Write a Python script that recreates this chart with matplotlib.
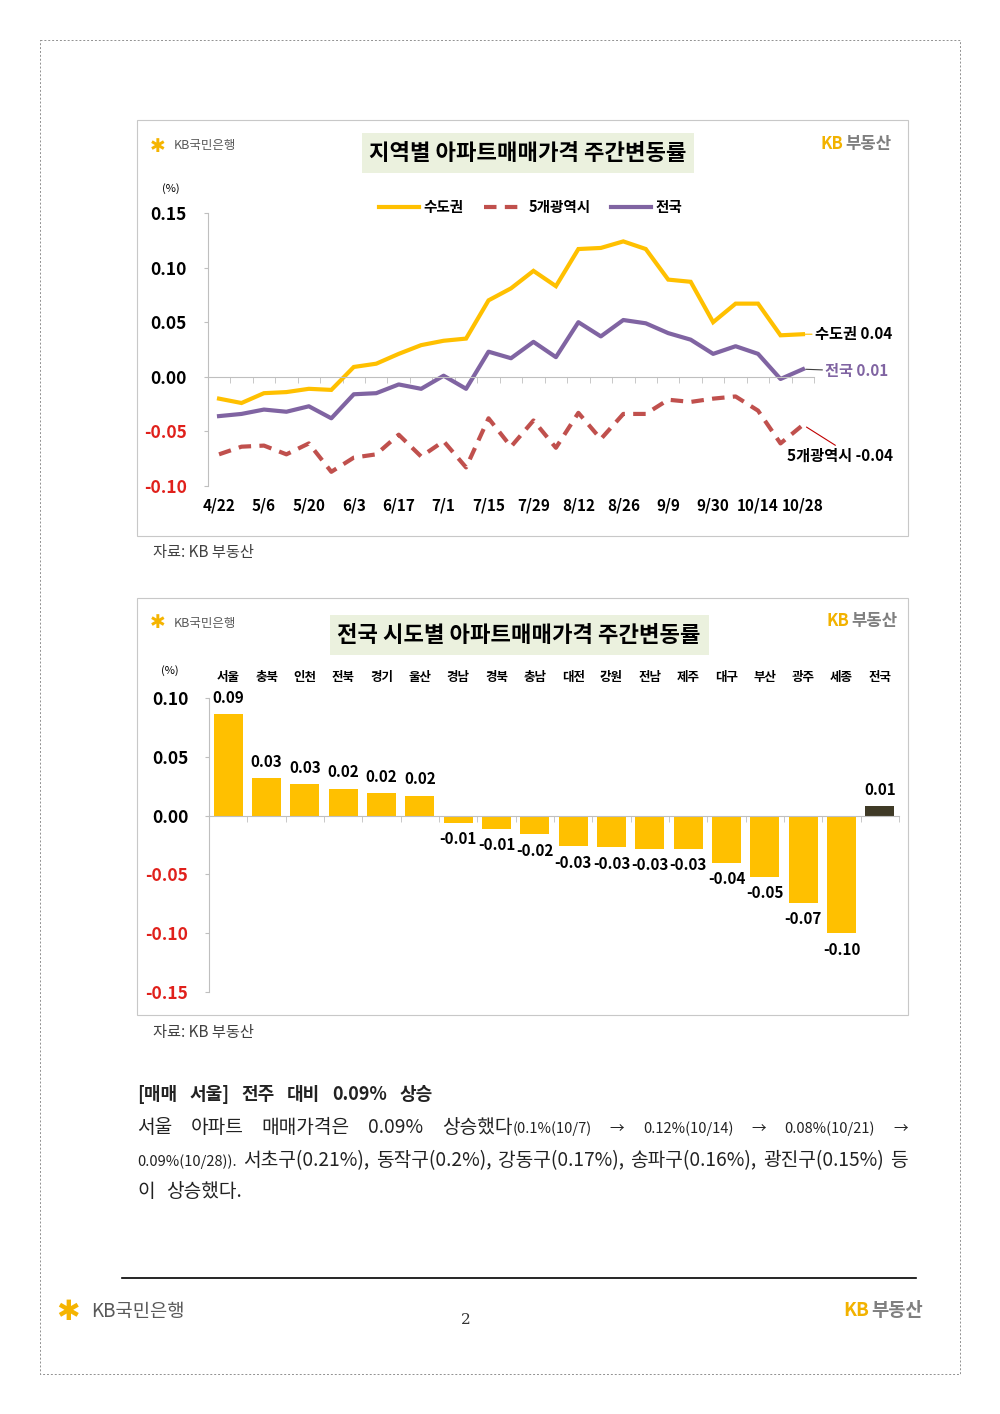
import numpy as np
import matplotlib
matplotlib.use('Agg')
import matplotlib.pyplot as plt
from matplotlib.patches import Rectangle

plt.rcParams['font.family'] = ['Noto Sans CJK KR', 'DejaVu Sans']

# weekly change (%) - top chart
dates = ['4/22', '4/29', '5/6', '5/13', '5/20', '5/27', '6/3', '6/10', '6/17', '6/24',
         '7/1', '7/8', '7/15', '7/22', '7/29', '8/5', '8/12', '8/19', '8/26', '9/2',
         '9/9', '9/23', '9/30', '10/7', '10/14', '10/21', '10/28']
capital = [-0.020, -0.024, -0.015, -0.014, -0.011, -0.012, 0.009, 0.012, 0.021, 0.029,
           0.033, 0.035, 0.070, 0.081, 0.097, 0.083, 0.117, 0.118, 0.124, 0.117,
           0.089, 0.087, 0.050, 0.067, 0.067, 0.038, 0.039]
metro = [-0.071, -0.064, -0.063, -0.071, -0.061, -0.087, -0.074, -0.071, -0.053, -0.073,
         -0.059, -0.083, -0.038, -0.064, -0.040, -0.065, -0.033, -0.057, -0.034, -0.034,
         -0.021, -0.023, -0.020, -0.018, -0.031, -0.061, -0.044]
national = [-0.036, -0.034, -0.030, -0.032, -0.027, -0.038, -0.016, -0.015, -0.007, -0.011,
            0.001, -0.011, 0.023, 0.017, 0.032, 0.018, 0.050, 0.037, 0.052, 0.049,
            0.040, 0.034, 0.021, 0.028, 0.021, -0.002, 0.007]
series_names = ['수도권', '5개광역시', '전국']

# latest week by region - bottom chart
regions = ['서울', '충북', '인천', '전북', '경기', '울산', '경남', '경북', '충남', '대전',
           '강원', '전남', '제주', '대구', '부산', '광주', '세종', '전국']
region_vals = [0.086, 0.032, 0.027, 0.023, 0.019, 0.017, -0.006, -0.011, -0.016, -0.026,
               -0.027, -0.028, -0.028, -0.040, -0.052, -0.074, -0.100, 0.008]

YEL = '#FFC000'
RED = '#C0504D'
PUR = '#8064A2'
NEG = '#E0201B'
GRID = '#BFBFBF'

fig = plt.figure(figsize=(10, 14.14), dpi=100)
fig.patch.set_facecolor('white')

# overlay in pixel coords
ov = fig.add_axes([0, 0, 1, 1])
ov.set_xlim(0, 1000)
ov.set_ylim(1414, 0)
ov.axis('off')

ov.add_patch(Rectangle((40, 40), 920, 1334, fill=False, ec='#909090', lw=0.7, ls=(0, (2, 2))))
for top, bot in [(120, 536), (598, 1015)]:
    ov.add_patch(Rectangle((137, top), 771, bot - top, fill=False, ec='#C8C8C8', lw=0.8))
ov.add_patch(Rectangle((362, 133), 332, 40, fc='#EBF1DE', ec='none'))
ov.add_patch(Rectangle((330, 615), 379, 40, fc='#EBF1DE', ec='none'))
ov.text(528, 154, '지역별 아파트매매가격 주간변동률', fontsize=16, weight='bold', ha='center', va='center')
ov.text(519, 636, '전국 시도별 아파트매매가격 주간변동률', fontsize=16, weight='bold', ha='center', va='center')


def kb_bank(x, y, fs):
    ov.text(x, y, '✱', fontsize=fs * 1.5, color='#F5B400', family='DejaVu Sans', ha='left', va='center')
    ov.text(x + fs * 2.6, y, 'KB국민은행', fontsize=fs, color='#595959', ha='left', va='center')


def kb_estate(x, y, fs):
    ov.text(x, y, 'KB', fontsize=fs, color='#F2B200', weight='bold', ha='left', va='center')
    ov.text(x + fs * 2.1, y, '부동산', fontsize=fs, color='#7F7F7F', weight='bold', ha='left', va='center')


kb_bank(150, 146, 9)
kb_bank(150, 623, 9)
kb_estate(820, 144, 12)
kb_estate(826, 621, 12)
kb_bank(56, 1312, 13.5)
kb_estate(843, 1310, 13.5)

ov.text(153, 553, '자료: KB 부동산', fontsize=11, color='#404040', va='center')
ov.text(153, 1032, '자료: KB 부동산', fontsize=11, color='#404040', va='center')
ov.text(171, 189, '(%)', fontsize=8, ha='center', va='center')
ov.text(170, 671, '(%)', fontsize=8, ha='center', va='center')

ov.plot([122, 916], [1278, 1278], color='black', lw=1.2)
ov.text(466, 1320, '2', fontsize=11, family='DejaVu Serif', ha='center', va='center', color='#333333')

# ---------------- top line chart ----------------
ax = fig.add_axes([0.2078, 1 - 486 / 1414, 0.6064, 273 / 1414])
ax.set_facecolor('none')
x = np.arange(len(dates))
l1, = ax.plot(x, capital, color=YEL, lw=3, solid_joinstyle='miter')
l2, = ax.plot(x, metro, color=RED, lw=3, ls=(0, (3, 2)))
l3, = ax.plot(x, national, color=PUR, lw=3)
ax.set_xlim(-0.5, len(dates) - 0.5)
ax.set_ylim(-0.10, 0.15)
ax.set_yticks(np.arange(-0.10, 0.151, 0.05))
ax.yaxis.set_major_formatter(matplotlib.ticker.FormatStrFormatter('%.2f'))
for s in ['top', 'right']:
    ax.spines[s].set_visible(False)
ax.spines['left'].set_color(GRID)
ax.spines['bottom'].set_color(GRID)
ax.spines['bottom'].set_position(('data', 0))
ax.set_xticks([])
ax.set_xticks(np.arange(-0.5, len(dates), 1), minor=True)
ax.tick_params(axis='x', which='minor', length=4, color=GRID, labelbottom=False)
ax.tick_params(axis='y', length=3, color=GRID, pad=12, labelsize=12.5)
for lab in ax.get_yticklabels():
    lab.set_fontweight('bold')
    if lab.get_position()[1] < -1e-9:
        lab.set_color(NEG)
sec = ax.secondary_xaxis('bottom')
sec.set_xticks(x[::2], [dates[i] for i in range(0, len(dates), 2)])
sec.spines['bottom'].set_visible(False)
sec.tick_params(length=0, pad=8, labelsize=11)
for lab in sec.get_xticklabels():
    lab.set_fontweight('bold')

ax.legend([l1, l2, l3], series_names, ncol=3, loc='center', frameon=False,
          bbox_to_anchor=(531 / 1000, 1 - 207 / 1414), bbox_transform=fig.transFigure,
          prop={'weight': 'bold', 'size': 10.5}, handlelength=2.7, columnspacing=1.4,
          handletextpad=0.35)

last = len(dates) - 1
ax.annotate(f'{series_names[0]} {capital[-1]:.2f}', xy=(last, capital[-1]), xytext=(8.5, 0),
            textcoords='offset points', ha='left', va='center', fontsize=11, weight='bold',
            arrowprops=dict(arrowstyle='-', color=YEL, lw=0.8, shrinkA=0, shrinkB=1))
ax.annotate(f'{series_names[2]} {national[-1]:.2f}', xy=(last, national[-1]), xytext=(16, -1.5),
            textcoords='offset points', ha='left', va='center', fontsize=11, weight='bold',
            color=PUR, arrowprops=dict(arrowstyle='-', color='#404040', lw=0.8, shrinkA=0, shrinkB=2))
ax.annotate(f'{series_names[1]} {metro[-1]:.2f}', xy=(last, metro[-1]), xytext=(26.5, -22.5),
            textcoords='offset points', ha='center', va='center', fontsize=11, weight='bold',
            arrowprops=dict(arrowstyle='-', color='#C00000', lw=0.8, shrinkA=0, shrinkB=3,
                            relpos=(0.5, 1)))

# ---------------- bottom bar chart ----------------
bx = fig.add_axes([0.209, 1 - 992 / 1414, 0.690, 294 / 1414])
bx.set_facecolor('none')
xb = np.arange(len(regions))
cols = [YEL] * (len(regions) - 1) + ['#3F3A26']
bars = bx.bar(xb, region_vals, width=0.75, color=cols, zorder=2)
bx.set_xlim(-0.5, len(regions) - 0.5)
bx.set_ylim(-0.15, 0.10)
bx.set_yticks(np.arange(-0.15, 0.101, 0.05))
bx.yaxis.set_major_formatter(matplotlib.ticker.FormatStrFormatter('%.2f'))
for s in ['top', 'right']:
    bx.spines[s].set_visible(False)
bx.spines['left'].set_color(GRID)
bx.spines['bottom'].set_color(GRID)
bx.spines['bottom'].set_position(('data', 0))
bx.set_xticks([])
bx.set_xticks(np.arange(-0.5, len(regions), 1), minor=True)
bx.tick_params(axis='x', which='minor', length=4, color=GRID, labelbottom=False)
bx.tick_params(axis='y', length=3, color=GRID, pad=12, labelsize=12.5)
for lab in bx.get_yticklabels():
    lab.set_fontweight('bold')
    if lab.get_position()[1] < -1e-9:
        lab.set_color(NEG)
bx.bar_label(bars, fmt='%.2f', padding=6, fontsize=11, fontweight='bold')
top = bx.secondary_xaxis('top')
top.set_xticks(xb, regions)
top.spines['top'].set_visible(False)
top.tick_params(length=0, pad=10, labelsize=9)
for lab in top.get_xticklabels():
    lab.set_fontweight('bold')

# ---------------- paragraph ----------------
rend = fig.canvas.get_renderer()


def justify(y, words, x0=137, x1=908, weight='normal'):
    items = []
    total = 0
    for w in words:
        pieces = []
        for s, fs in w:
            t = ov.text(0, y, s, fontsize=fs, va='baseline', color='#222222', weight=weight)
            wd = t.get_window_extent(rend).width
            pieces.append((t, wd))
            total += wd
        items.append(pieces)
    gap = (x1 - x0 - total) / (len(words) - 1)
    xx = x0
    for pieces in items:
        for t, wd in pieces:
            t.set_x(xx)
            xx += wd
        xx += gap


B, S = 13.8, 10.5
justify(1100, [[(w, 13)] for w in '[매매 서울] 전주 대비 0.09% 상승'.split()], x1=433, weight='bold')
justify(1133, [[('서울', B)], [('아파트', B)], [('매매가격은', B)], [('0.09%', B)],
               [('상승했다', B), ('(0.1%(10/7)', S)], [('→', S)], [('0.12%(10/14)', S)],
               [('→', S)], [('0.08%(10/21)', S)], [('→', S)]])
justify(1166, [[('0.09%(10/28)).', S)], [('서초구(0.21%),', B)], [('동작구(0.2%),', B)],
               [('강동구(0.17%),', B)], [('송파구(0.16%),', B)], [('광진구(0.15%)', B)],
               [('등', B)]])
justify(1197, [[('이', B)], [('상승했다.', B)]], x1=242)

fig.savefig('out.png', dpi=100, facecolor='white')
